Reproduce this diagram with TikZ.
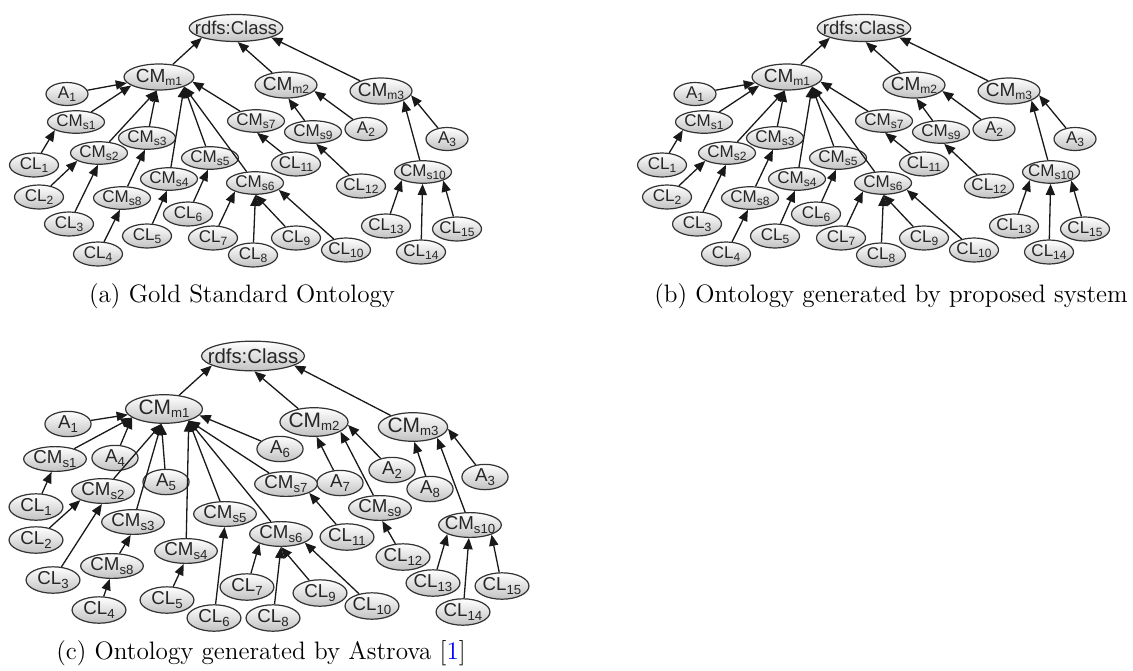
\documentclass[tikz,border=0pt]{standalone}
\usepackage{fontspec}
\newfontfamily\nodefont{Liberation Sans}
\usetikzlibrary{arrows.meta,shapes.geometric}

% one drawing unit (the size of a pixel of the layout grid)
\newlength\pxu
\setlength\pxu{0.5pt}
\newcommand\lsub[1]{\raisebox{-3\pxu}{\fontsize{12\pxu}{12\pxu}\selectfont #1}}

\tikzset{
  onode/.style={ellipse, draw=black!80, line width=0.6pt, inner ysep=0pt, inner xsep=-3*\pxu,
    top color=white, bottom color=black!24, text=black!85,
    font=\nodefont\fontsize{17\pxu}{17\pxu}\selectfont},
  rootnode/.style={onode, minimum width=92*\pxu, minimum height=27*\pxu, inner xsep=-8*\pxu,
    font=\nodefont\fontsize{18.5\pxu}{18.5\pxu}\selectfont},
  cmm/.style={onode, minimum width=66*\pxu, minimum height=26*\pxu,
    font=\nodefont\fontsize{19\pxu}{19\pxu}\selectfont},
  cms/.style={onode, minimum width=57*\pxu, minimum height=22.5*\pxu},
  cl/.style={onode, minimum width=49*\pxu, minimum height=24*\pxu},
  att/.style={onode, minimum width=42*\pxu, minimum height=23*\pxu},
  isa/.style={draw=black!90, line width=0.65pt, -{Triangle[length=5.6pt,width=4.6pt]}},
  caption/.style={anchor=base, font=\fontsize{12.6pt}{15pt}\selectfont}
}

% the gold standard hierarchy (also produced by the proposed system)
\newcommand\goldtree{%
  \node[rootnode] (root) at (236,28) {rdfs:Class};
  \node[cmm, minimum width=70*\pxu] (CMm1) at (159,77) {CM\lsub{m1}};
  \node[cmm, minimum width=62*\pxu] (CMm2) at (286,85) {CM\lsub{m2}};
  \node[cmm, minimum width=62*\pxu] (CMm3) at (381,91) {CM\lsub{m3}};
  \node[att] (A1) at (67,94) {A\lsub{1}};
  \node[att] (A2) at (366,129) {A\lsub{2}};
  \node[att] (A3) at (447,139) {A\lsub{3}};
  \node[cms] (CMs1) at (76,122) {CM\lsub{s1}};
  \node[cms] (CMs2) at (99,153) {CM\lsub{s2}};
  \node[cms] (CMs3) at (147,138) {CM\lsub{s3}};
  \node[cms] (CMs4) at (169,179) {CM\lsub{s4}};
  \node[cms] (CMs5) at (210,158) {CM\lsub{s5}};
  \node[cms] (CMs6) at (255,183) {CM\lsub{s6}};
  \node[cms] (CMs7) at (256,121) {CM\lsub{s7}};
  \node[cms] (CMs8) at (122,198) {CM\lsub{s8}};
  \node[cms] (CMs9) at (313,132) {CM\lsub{s9}};
  \node[cms] (CMs10) at (423,172) {CM\lsub{s10}};
  \node[cl] (CL1) at (34,165) {CL\lsub{1}};
  \node[cl] (CL2) at (39,197) {CL\lsub{2}};
  \node[cl] (CL3) at (69,224) {CL\lsub{3}};
  \node[cl] (CL4) at (98,254) {CL\lsub{4}};
  \node[cl] (CL5) at (147,236) {CL\lsub{5}};
  \node[cl] (CL6) at (188,214) {CL\lsub{6}};
  \node[cl] (CL7) at (213,238) {CL\lsub{7}};
  \node[cl] (CL8) at (253,255) {CL\lsub{8}};
  \node[cl] (CL9) at (296,238) {CL\lsub{9}};
  \node[cl] (CL10) at (346,250) {CL\lsub{10}};
  \node[cl] (CL11) at (296,164) {CL\lsub{11}};
  \node[cl] (CL12) at (361,186) {CL\lsub{12}};
  \node[cl] (CL13) at (386,226) {CL\lsub{13}};
  \node[cl] (CL14) at (421,252) {CL\lsub{14}};
  \node[cl] (CL15) at (457,229) {CL\lsub{15}};
  \draw[isa] (CMm1) -- (root.-164);
  \draw[isa] (CMm2) -- (root.-83);
  \draw[isa] (CMm3) -- (root.-15);
  \draw[isa] (A1) -- (CMm1);
  \draw[isa] (CMs1) -- (CMm1.-163);
  \draw[isa] (CMs2) -- (CMm1.-100);
  \draw[isa] (CMs3) -- (CMm1.-100);
  \draw[isa] (CMs4) -- (CMm1.-21);
  \draw[isa] (CMs5) -- (CMm1.-21);
  \draw[isa] (CMs6) -- (CMm1.-21);
  \draw[isa] (CMs7) -- (CMm1.-8);
  \draw[isa] (CMs9) -- (CMm2.-80);
  \draw[isa] (A2) -- (CMm2.-12);
  \draw[isa] (CMs10) -- (CMm3.-23);
  \draw[isa] (A3) -- (CMm3.-8);
  \draw[isa] (CL1) -- (CMs1.-159);
  \draw[isa] (CL2) -- (CMs2.-160);
  \draw[isa] (CL3) -- (CMs2.-95);
  \draw[isa] (CMs8) -- (CMs3.-100);
  \draw[isa] (CL4) -- (CMs8.-100);
  \draw[isa] (CL5) -- (CMs4.-100);
  \draw[isa] (CL6) -- (CMs5.-100);
  \draw[isa] (CL7) -- (CMs6.-157);
  \draw[isa] (CL8) -- (CMs6.-88);
  \draw[isa] (CL9) -- (CMs6.-88);
  \draw[isa] (CL10) -- (CMs6.-16);
  \draw[isa] (CL11) -- (CMs7.-85);
  \draw[isa] (CL12) -- (CMs9.-75);
  \draw[isa] (CL13) -- (CMs10.-159);
  \draw[isa] (CL14) -- (CMs10.-92);
  \draw[isa] (CL15) -- (CMs10.-23);
}

\begin{document}
\begin{tikzpicture}[x=0.5pt,y=-0.5pt]
\useasboundingbox (0,0) rectangle (1133,670);

% (a) gold standard
\begin{scope}[name prefix=a-]
  \goldtree
\end{scope}
\node[caption] (capa) at (242,302) {(a) Gold Standard Ontology};

% (b) proposed system: same hierarchy
\begin{scope}[name prefix=b-, shift={(628,0)}]
  \goldtree
\end{scope}
\node[caption] (capb) at (891,302) {(b) Ontology generated by proposed system};

% (c) Astrova's method, drawn a little larger
\begin{scope}[name prefix=c-]
  \setlength\pxu{0.55pt}
  \node[rootnode] (root) at (253,356) {rdfs:Class};
  \node[cmm, minimum width=70*\pxu] (CMm1) at (164,409) {CM\lsub{m1}};
  \node[cmm, minimum width=62*\pxu] (CMm2) at (314,422) {CM\lsub{m2}};
  \node[cmm, minimum width=63*\pxu] (CMm3) at (413,427) {CM\lsub{m3}};
  \node[att] (A1) at (68,424) {A\lsub{1}};
  \node[att] (A2) at (392,470) {A\lsub{2}};
  \node[att] (A3) at (485,477) {A\lsub{3}};
  \node[att] (A4) at (115,458) {A\lsub{4}};
  \node[att] (A5) at (166,482) {A\lsub{5}};
  \node[att] (A6) at (280,449) {A\lsub{6}};
  \node[att] (A7) at (340,483) {A\lsub{7}};
  \node[att] (A8) at (430,489) {A\lsub{8}};
  \node[cms] (CMs1) at (55,459) {CM\lsub{s1}};
  \node[cms] (CMs2) at (103,491) {CM\lsub{s2}};
  \node[cms] (CMs3) at (133,522) {CM\lsub{s3}};
  \node[cms] (CMs4) at (186,551) {CM\lsub{s4}};
  \node[cms] (CMs5) at (225,514) {CM\lsub{s5}};
  \node[cms] (CMs6) at (281,534) {CM\lsub{s6}};
  \node[cms] (CMs7) at (286,484) {CM\lsub{s7}};
  \node[cms] (CMs8) at (112,566) {CM\lsub{s8}};
  \node[cms] (CMs9) at (380,508) {CM\lsub{s9}};
  \node[cms] (CMs10) at (470,525) {CM\lsub{s10}};
  \node[cl] (CL1) at (36,507) {CL\lsub{1}};
  \node[cl] (CL2) at (36,540) {CL\lsub{2}};
  \node[cl] (CL3) at (53,580) {CL\lsub{3}};
  \node[cl] (CL4) at (99,610) {CL\lsub{4}};
  \node[cl] (CL5) at (167,600) {CL\lsub{5}};
  \node[cl] (CL6) at (214,618) {CL\lsub{6}};
  \node[cl] (CL7) at (247,587) {CL\lsub{7}};
  \node[cl] (CL8) at (273,618) {CL\lsub{8}};
  \node[cl] (CL9) at (320,593) {CL\lsub{9}};
  \node[cl] (CL10) at (372,606) {CL\lsub{10}};
  \node[cl] (CL11) at (347,537) {CL\lsub{11}};
  \node[cl] (CL12) at (403,557) {CL\lsub{12}};
  \node[cl] (CL13) at (433,583) {CL\lsub{13}};
  \node[cl] (CL14) at (463,612) {CL\lsub{14}};
  \node[cl] (CL15) at (502,586) {CL\lsub{15}};
  \draw[isa] (CMm1) -- (root.-167);
  \draw[isa] (CMm2) -- (root.-85);
  \draw[isa] (CMm3) -- (root.-13);
  \draw[isa] (A1) -- (CMm1);
  \draw[isa] (CMs1) -- (CMm1.-165);
  \draw[isa] (A4) -- (CMm1.-165);
  \draw[isa] (CMs2) -- (CMm1.-100);
  \draw[isa] (CMs3) -- (CMm1.-100);
  \draw[isa] (A5) -- (CMm1.-100);
  \draw[isa] (CMs4) -- (CMm1.-25);
  \draw[isa] (CMs5) -- (CMm1.-25);
  \draw[isa] (CMs6) -- (CMm1.-25);
  \draw[isa] (CMs7) -- (CMm1.-25);
  \draw[isa] (A6) -- (CMm1.-10);
  \draw[isa] (A7) -- (CMm2.-80);
  \draw[isa] (CMs9) -- (CMm2.-20);
  \draw[isa] (A2) -- (CMm2.-5);
  \draw[isa] (A8) -- (CMm3.-85);
  \draw[isa] (CMs10) -- (CMm3.-24);
  \draw[isa] (A3) -- (CMm3.-3);
  \draw[isa] (CL1) -- (CMs1.-105);
  \draw[isa] (CL2) -- (CMs2.-158);
  \draw[isa] (CL3) -- (CMs2.-95);
  \draw[isa] (CMs8) -- (CMs3.-100);
  \draw[isa] (CL4) -- (CMs8.-100);
  \draw[isa] (CL5) -- (CMs4.-100);
  \draw[isa] (CL6) -- (CMs5.-92);
  \draw[isa] (CL7) -- (CMs6.-156);
  \draw[isa] (CL8) -- (CMs6.-90);
  \draw[isa] (CL9) -- (CMs6.-90);
  \draw[isa] (CL10) -- (CMs6.-20);
  \draw[isa] (CL11) -- (CMs7.-21);
  \draw[isa] (CL12) -- (CMs9.-80);
  \draw[isa] (CL13) -- (CMs10.-158);
  \draw[isa] (CL14) -- (CMs10.-95);
  \draw[isa] (CL15) -- (CMs10.-24);
\end{scope}
\node[caption] (capc) at (261,659) {(c) Ontology generated by Astrova [\textcolor{blue}{1}]};
\end{tikzpicture}
\end{document}
